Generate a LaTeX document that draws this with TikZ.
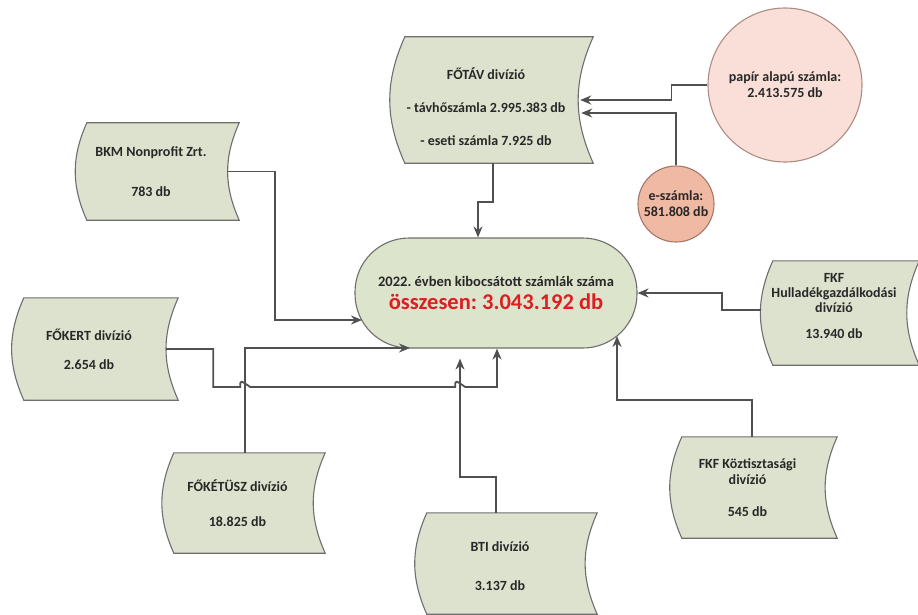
\documentclass[tikz,border=0pt]{standalone}
\usepackage{fontspec}
\setmainfont{Carlito}
\usetikzlibrary{arrows.meta,backgrounds,calc}
\definecolor{boxfill}{RGB}{221,226,206}
\definecolor{cfill}{RGB}{221,228,204}
\definecolor{edgec}{RGB}{110,110,110}
\definecolor{linec}{RGB}{80,80,80}
\definecolor{paperfill}{RGB}{249,223,215}
\definecolor{paperedge}{RGB}{175,140,130}
\definecolor{efill}{RGB}{240,185,163}
\definecolor{eedge}{RGB}{165,120,105}
\definecolor{txt}{RGB}{40,40,40}
\definecolor{redt}{RGB}{222,30,35}
\tikzset{
  sdbox/.style={inner sep=0pt, align=center, text=txt, font=\frenchspacing\fontsize{14}{16}\selectfont\bfseries},
  sdframe/.style={draw=edgec, fill=boxfill, line width=1.1pt},
  conn/.style={draw=linec, line width=1.8pt, -{Stealth[length=11pt,width=9pt]}},
  bubble/.style={circle, inner sep=0pt, align=center, line width=1.1pt, text=txt, font=\fontsize{14}{16}\selectfont\bfseries},
}
\newcommand{\drawsd}[2][12]{%
  \draw[sdframe] ($(#2.north west)+(#1,0)$) to[bend right=24] ($(#2.south west)+(#1,0)$)
    -- ($(#2.south east)+(#1,0)$) to[bend left=24] ($(#2.north east)+(#1,0)$) -- cycle;}
\begin{document}
\begin{tikzpicture}[x=1pt,y=-1pt]
\useasboundingbox (0,0) rectangle (918,615);
% boxes
\node[sdbox, minimum width=188pt, minimum height=126pt] (fotav) at (486,100)
  {\rule{0pt}{26pt}FŐTÁV divízió\\[17pt]- távhőszámla 2.995.383 db\\[17pt]- eseti számla 7.925 db};
\node[sdbox, minimum width=152pt, minimum height=97pt] (bkm) at (151,171.5)
  {BKM Nonprofit Zrt.\\[24pt]783 db};
\node[sdbox, minimum width=154pt, minimum height=102pt] (fokert) at (89,349)
  {FŐKERT divízió\\[13pt]2.654 db};
\node[sdbox, minimum width=151pt, minimum height=100pt] (fokt) at (237.5,503)
  {FŐKÉTÜSZ divízió\\[19pt]18.825 db};
\node[sdbox, minimum width=170pt, minimum height=101pt] (bti) at (500,563.5)
  {\rule{0pt}{16pt}BTI divízió\\[23pt]3.137 db};
\node[sdbox, minimum width=155pt, minimum height=101pt] (kozt) at (747.5,487.5)
  {FKF Köztisztasági\\divízió\\[16pt]545 db};
\node[sdbox, minimum width=146pt, minimum height=104pt] (hull) at (834,313)
  {FKF\\[-1pt]Hulladékgazdálkodási\\[-1pt]divízió\\[10pt]13.940 db\rule[-14pt]{0pt}{0pt}};
\begin{scope}[on background layer]
  \drawsd[13]{fotav}
  \drawsd{bkm}
  \drawsd{fokert}
  \drawsd{fokt}
  \drawsd{bti}
  \drawsd{kozt}
  \drawsd{hull}
\end{scope}
% central
\node[draw=edgec, fill=cfill, line width=1.1pt, rounded corners=54pt, minimum width=282pt,
      minimum height=110pt, inner sep=0pt, align=center, text=txt,
      font=\frenchspacing\fontsize{14.5}{23}\selectfont\bfseries] (c) at (496,293)
  {2022. évben kibocsátott számlák száma\\
   {\fontsize{22.5}{23}\selectfont\color{redt}összesen: 3.043.192 db}};
% circles
\node[bubble, draw=paperedge, fill=paperfill, minimum size=154pt] (paper) at (785,85)
  {papír alapú számla:\\2.413.575 db};
\node[bubble, draw=eedge, fill=efill, minimum size=76pt] (e) at (676,204)
  {e-számla:\\581.808 db};
% connectors
\draw[conn] (paper.west) -- ++(-36,0) |- (fotav.east);
\draw[conn] (e.north) |- ($(fotav.east)+(1,13)$);
\draw[conn] ($(fotav.south)+(7,0)$) -- ++(0,39) -| ($(c.north)+(-18,0)$);
\draw[conn] (bkm.east) -- ++(48,0) |- ($(c.center)+(-134,27)$);
\draw[conn] ($(fokt.north)+(7.5,0)$) |- ($(c.center)+(-86,55)$);
\draw[conn] (fokert.east) -- ++(47,0) -- ++(0,38) -- ++(27,0)
   .. controls ++(0,-7) and ++(-10,-7) .. ++(10,0) -- ++(205,0)
   .. controls ++(0,-7) and ++(-10,-7) .. ++(10,0) -| ($(c.south)+(1,0)$);
\draw[conn] ($(bti.north)+(-4,0)$) -- ++(0,-36) -| ($(c.south)+(-36,10)$);
\draw[conn] ($(kozt.north)+(4.5,0)$) -- ++(0,-37) -| ($(c.center)+(121,43)$);
\draw[conn] ($(hull.west)+(0,-3)$) -- ++(-39,0) |- (c.east);
\end{tikzpicture}
\end{document}
